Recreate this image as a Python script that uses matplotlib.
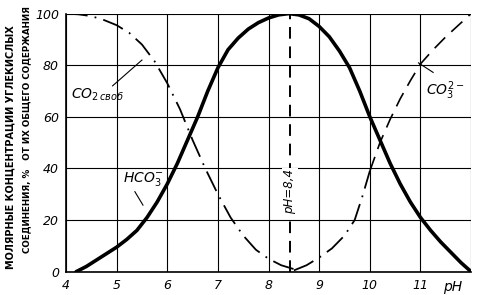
import matplotlib
matplotlib.use("Agg")
import matplotlib.pyplot as plt

# Data
ph_hco3 = [4.2, 4.4, 4.6, 4.8, 5.0, 5.2, 5.4, 5.6, 5.8, 6.0, 6.2, 6.4, 6.6, 6.8, 7.0, 7.2, 7.4, 7.6, 7.8,
           8.0, 8.2, 8.4, 8.6, 8.8, 9.0, 9.2, 9.4, 9.6, 9.8, 10.0, 10.2, 10.4, 10.6, 10.8, 11.0, 11.2,
           11.4, 11.6, 11.8, 12.0]
hco3 = [0, 2, 4.5, 7, 9.5, 12.5, 16, 21, 27, 34, 42, 51, 60, 70, 79, 86, 90.5, 94, 96.5,
        98.3, 99.5, 100, 99.5, 98, 95, 91, 85.5, 79, 70, 60, 51, 42, 34, 27, 21, 16,
        11.5, 7.5, 3.5, 0]

ph_co2 = [4.0, 4.25, 4.5, 4.75, 5.0, 5.25, 5.5, 5.75, 6.0, 6.25, 6.5, 6.75, 7.0, 7.25, 7.5, 7.75,
          8.0, 8.25, 8.5, 8.6]
co2 = [100, 99.7, 99, 97.5, 95.5, 92.5, 88, 81.5, 73, 63, 51, 40, 30, 21, 14, 8.5,
       5, 2.5, 1, 0.8]

ph_co3_low = [8.5, 8.75, 9.0, 9.25, 9.5, 9.7, 9.85, 10.0]
co3_low = [0.5, 2.5, 5.5, 9, 14, 20, 29, 39]
ph_co3_high = [10.0, 10.2, 10.4, 10.6, 10.8, 11.0, 11.25, 11.5, 11.75, 12.0]
co3_high = [39, 50, 59, 67, 74, 80.5, 86, 91, 95.5, 100]

x_ticks = [4, 5, 6, 7, 8, 9, 10, 11]
y_ticks = [0, 20, 40, 60, 80, 100]

fig = plt.figure(figsize=(4.8, 2.95), dpi=100)
ax = fig.add_axes([0.1375, 0.079, 0.844, 0.875])
ax.set_xlim(4, 12)
ax.set_ylim(0, 100)

for x in range(4, 13):
    ax.axvline(x, color="black", lw=0.8, zorder=1)
for y in y_ticks:
    ax.axhline(y, color="black", lw=0.8, zorder=1)

ax.plot(ph_hco3, hco3, color="black", lw=2.6, solid_capstyle="round", solid_joinstyle="round", zorder=3)
ax.plot(ph_co2, co2, color="black", lw=1.3, linestyle=(0, (12, 4, 1, 4)), zorder=3)
ax.plot(ph_co3_low, co3_low, color="black", lw=1.3, linestyle=(0, (12, 4, 1, 4)), zorder=3)
ax.plot(ph_co3_high, co3_high, color="black", lw=1.2, linestyle=(0, (9, 5)), zorder=3)

ax.axvline(8.42, color="black", lw=1.4, linestyle=(0, (6, 4)), zorder=2)

for s in ["top", "right"]:
    ax.spines[s].set_visible(False)
ax.spines["left"].set_linewidth(1.2)
ax.spines["bottom"].set_linewidth(1.2)

ax.set_xticks(x_ticks)
ax.set_xticklabels([str(v) for v in x_ticks], fontstyle="italic", fontsize=9)
ax.set_yticks(y_ticks)
ax.set_yticklabels([str(v) for v in y_ticks], fontstyle="italic", fontsize=9)
ax.tick_params(length=0, pad=5)
ax.text(11.63, -6, "pH", fontstyle="italic", fontsize=10, ha="center", va="center", clip_on=False)

# annotations
ax.text(4.1, 68.5, r"$\mathit{CO}_{\mathit{2\,своб}}$", fontsize=10, ha="left", va="center")
ax.plot([4.92, 5.5], [72, 82], color="black", lw=0.8)
ax.text(5.13, 36, r"$\mathit{HCO}_{\mathit{3}}^{\mathit{-}}$", fontsize=10, ha="left", va="center")
ax.plot([5.36, 5.52], [31, 25.8], color="black", lw=0.8)
ax.text(11.1, 70, r"$\mathit{CO}_{\mathit{3}}^{\mathit{2-}}$", fontsize=10, ha="left", va="center")
ax.plot([10.96, 11.25], [80.9, 77.2], color="black", lw=0.8)
ax.text(8.42, 31, "pH=8,4", rotation=90, fontstyle="italic", fontsize=8.5, ha="center", va="center",
        bbox=dict(facecolor="white", edgecolor="none", pad=1), zorder=4)

fig.text(0.022, 0.50, "МОЛЯРНЫЕ КОНЦЕНТРАЦИИ УГЛЕКИСЛЫХ", rotation=90, fontsize=7,
         fontweight="bold", ha="center", va="center")
fig.text(0.055, 0.56, "СОЕДИНЕНИЯ, %   ОТ ИХ ОБЩЕГО СОДЕРЖАНИЯ", rotation=90, fontsize=6.3,
         fontweight="bold", ha="center", va="center")

fig.savefig("out.png", dpi=100)
